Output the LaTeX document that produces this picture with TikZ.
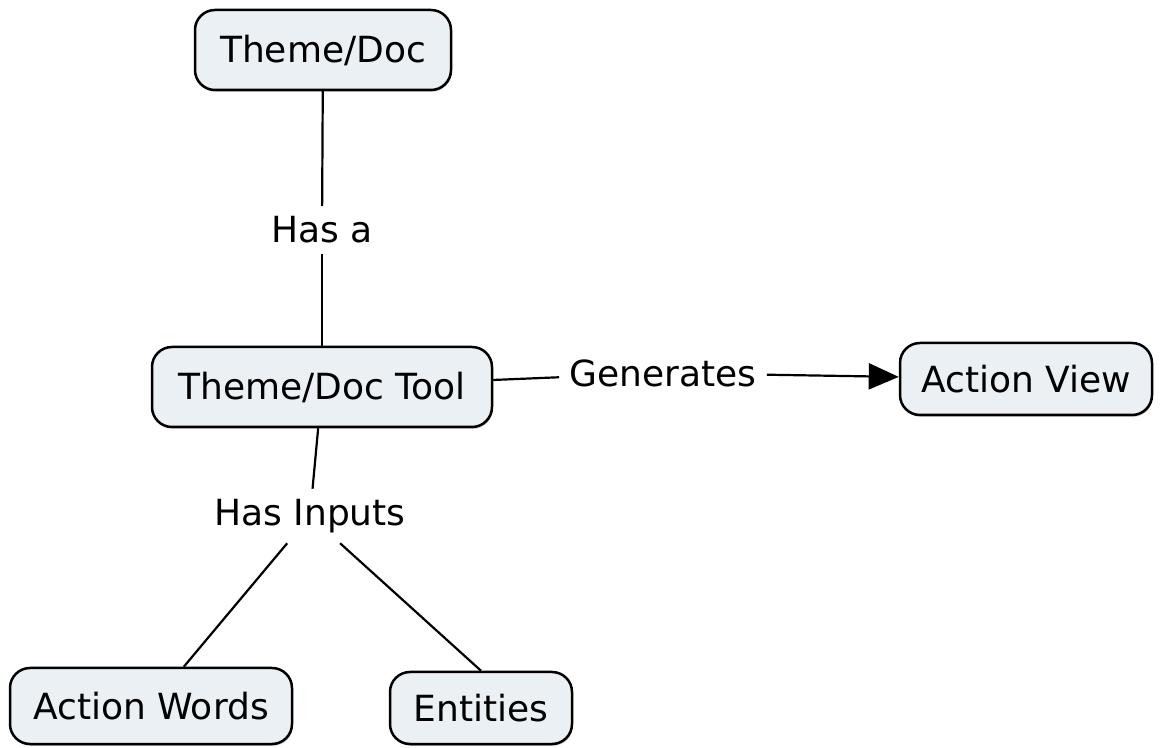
\documentclass[tikz,border=0pt]{standalone}
\usepackage{fontspec}
\setmainfont{DejaVu Sans}
\usetikzlibrary{shadows,arrows.meta}
\definecolor{boxfill}{HTML}{EAF0F4}
\tikzset{%
      concept/.style={draw, thick, line width=1.25pt, fill=boxfill, rounded corners=10pt, text centered, minimum height=38pt, inner sep=3pt, drop shadow={shadow xshift=0.4pt, shadow yshift=-0.9pt, opacity=0.5}},
      linker/.style={inner sep=5pt},
      link/.style={draw, line width=1.1pt},
      linkarrow/.style={link, -{Triangle[length=15pt,width=13pt]}},
    }

\begin{document}
\begin{tikzpicture}[x=0.5pt, y=-0.5pt, font=\fontsize{18}{21}\selectfont]
      \useasboundingbox (0,0) rectangle (1163,748);

      % Draw concepts
      \path (323,50) node (doc) [concept, minimum width=128pt, minimum height=40pt] {Theme/Doc};
      \path (322,387) node (tool) [concept, minimum width=170pt, minimum height=40pt] {Theme/Doc Tool};
      \path (1026,379) node (view) [concept, minimum width=126pt, minimum height=36pt] {Action View};
      \path (151,706) node (words) [concept, minimum width=141pt] {Action Words};
      \path (481,708) node (ents) [concept, minimum width=91pt, minimum height=36pt] {Entities};

      % Draw linking phrases
      \path (322,230) node (hasa) [linker] {Has a};
      \path (663,373) node (gen) [linker] {Generates};
      \path (310,516) node (inputs) [linker] {Has Inputs};

      % Draw links between concepts
      \path [link] (doc) -- (hasa);
      \path [link] (hasa) -- (tool);
      \path [link] (tool) -- (gen);
      \path [linkarrow] (gen) -- (view);
      \path [link] (tool) -- (inputs);
      \path [link] (inputs) -- (words);
      \path [link] (inputs) -- (ents.north);

\end{tikzpicture}
\end{document}
